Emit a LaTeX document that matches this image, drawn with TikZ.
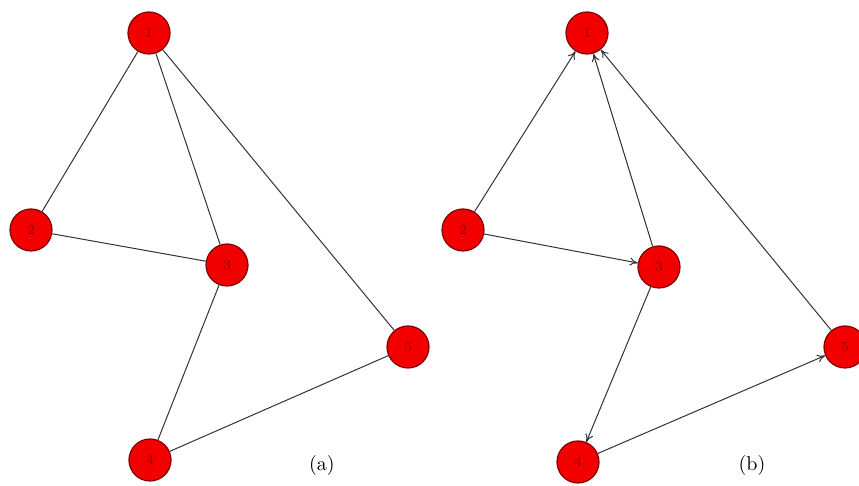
\documentclass[tikz,border=0pt]{standalone}
\usetikzlibrary{arrows.meta}
\begin{document}
\begin{tikzpicture}[x=0.5pt,y=-0.5pt,
  vert/.style={circle,fill=red!95!black,draw=red!50!black,line width=0.6pt,minimum size=21pt,inner sep=0pt,text=red!60!black,font=\scriptsize},
  edge/.style={draw=black!80,line width=0.5pt},
  arc/.style={edge,-{To[length=4pt,width=4pt]}},
  sublabel/.style={font=\normalsize}]
\useasboundingbox (0,0) rectangle (859,486);
% (a)
\node[vert] (a1) at (149,33) {1};
\node[vert] (a2) at (31,230) {2};
\node[vert] (a3) at (227,265) {3};
\node[vert] (a5) at (408,347) {5};
\node[vert] (a4) at (150,460) {4};
\draw[edge] (a1) -- (a2);
\draw[edge] (a1) -- (a3);
\draw[edge] (a1) -- (a5);
\draw[edge] (a2) -- (a3);
\draw[edge] (a3) -- (a4);
\draw[edge] (a4) -- (a5);
\node[sublabel] (la) at (322,466) {(a)};
% (b)
\node[vert] (b1) at (587,33) {1};
\node[vert] (b2) at (463,230) {2};
\node[vert] (b3) at (659,267) {3};
\node[vert] (b5) at (845,347) {5};
\node[vert] (b4) at (578,462) {4};
\draw[arc] (b2) -- (b1);
\draw[arc] (b2) -- (b3);
\draw[arc] (b3) -- (b1);
\draw[arc] (b5) -- (b1);
\draw[arc] (b3) -- (b4);
\draw[arc] (b4) -- (b5);
\node[sublabel] (lb) at (752,466) {(b)};
\end{tikzpicture}
\end{document}
